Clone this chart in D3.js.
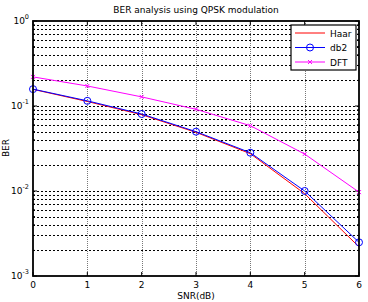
<!DOCTYPE html>
<html><head><meta charset="utf-8">
<script src="https://cdn.jsdelivr.net/npm/d3@7"></script>
<style>body{margin:0;background:#fff}svg{display:block}text{font-family:"DejaVu Sans",Arial,sans-serif}</style>
</head><body>
<svg id="c" width="368" height="302"></svg>
<script>
const snr = [0,1,2,3,4,5,6];
const haar = [0.157,0.113,0.079,0.049,0.0275,0.0093,0.0022];
const db2 = [0.158,0.115,0.0805,0.0499,0.0282,0.0100,0.00249];
const dft = [0.22,0.172,0.128,0.0914,0.0587,0.0272,0.0097];
const xTicks = [0,1,2,3,4,5,6];
const yExps = [0,-1,-2,-3];
const seriesNames = ["Haar","db2","DFT"];
const colors = ["#ff0000","#0000ff","#ff00ff"];

const svg = d3.select("#c");
const L=33, R=359, T=21, B=276;
const x = d3.scaleLinear().domain([0,6]).range([L,R]);
const y = d3.scaleLog().domain([1e-3,1]).range([B,T]);

// grid
const minor = [];
for (let e=-3;e<0;e++) for (let m=1;m<10;m++) minor.push(m*Math.pow(10,e));
minor.push(1);
const g = svg.append("g").attr("shape-rendering","crispEdges");
g.selectAll("line.gy").data(minor.filter(v=>v>1e-3&&v<1)).enter().append("line")
 .attr("x1",L).attr("x2",R).attr("y1",d=>Math.round(y(d))+0.5).attr("y2",d=>Math.round(y(d))+0.5)
 .attr("stroke","#000").attr("stroke-width",1).attr("stroke-dasharray","2,2");
g.selectAll("line.gx").data(xTicks.slice(1,-1)).enter().append("line")
 .attr("y1",T).attr("y2",B).attr("x1",d=>Math.round(x(d))+0.5).attr("x2",d=>Math.round(x(d))+0.5)
 .attr("stroke","#777").attr("stroke-width",1).attr("stroke-dasharray","1,1");

// ticks inward on all sides
const tk = svg.append("g").attr("stroke","#000");
minor.forEach(v=>{ const yy=y(v); const len = (Math.abs(Math.log10(v)-Math.round(Math.log10(v)))<1e-9)?4:2;
  tk.append("line").attr("x1",L).attr("x2",L+len).attr("y1",yy).attr("y2",yy);
  tk.append("line").attr("x1",R).attr("x2",R-len).attr("y1",yy).attr("y2",yy);});
xTicks.forEach(v=>{ const xx=x(v);
  tk.append("line").attr("x1",xx).attr("x2",xx).attr("y1",B).attr("y2",B-4);
  tk.append("line").attr("x1",xx).attr("x2",xx).attr("y1",T).attr("y2",T+4);});

// lines
const line = d3.line().x((d,i)=>x(snr[i])).y(d=>y(d));
[haar,db2,dft].forEach((s,k)=>{
  svg.append("path").attr("d",line(s)).attr("fill","none").attr("stroke",colors[k]).attr("stroke-width",1);
});
svg.selectAll("circle.m").data(db2).enter().append("circle")
 .attr("cx",(d,i)=>x(snr[i])).attr("cy",d=>y(d)).attr("r",3.5)
 .attr("fill","none").attr("stroke",colors[1]).attr("stroke-width",1);
dft.forEach((d,i)=>{
  const cx=x(snr[i]), cy=y(d), s=2;
  svg.append("path").attr("d",`M${cx-s},${cy-s}L${cx+s},${cy+s}M${cx-s},${cy+s}L${cx+s},${cy-s}`)
   .attr("stroke",colors[2]).attr("stroke-width",1);
});

// frame
svg.append("rect").attr("x",L).attr("y",T).attr("width",R-L).attr("height",B-T)
 .attr("fill","none").attr("stroke","#000").attr("stroke-width",1.8);

// tick labels
xTicks.forEach(v=>svg.append("text").attr("x",x(v)).attr("y",B+12).attr("text-anchor","middle")
  .attr("font-size",9).text(v));
yExps.forEach(e=>{
  const t=svg.append("text").attr("x",L-4).attr("y",y(Math.pow(10,e))+3).attr("text-anchor","end").attr("font-size",9);
  t.append("tspan").text("10");
  t.append("tspan").attr("dy",-5).attr("font-size",6.5).text(e);
});
svg.append("text").attr("x",196).attr("y",13).attr("text-anchor","middle").attr("font-size",9).text("BER analysis using QPSK  modulation");
svg.append("text").attr("x",196).attr("y",299).attr("text-anchor","middle").attr("font-size",9).text("SNR(dB)");
svg.append("text").attr("transform","translate(9,148) rotate(-90)").attr("text-anchor","middle").attr("font-size",9).text("BER");

// legend
const lg = svg.append("g");
lg.append("rect").attr("x",291).attr("y",25).attr("width",65).attr("height",45).attr("fill","#fff").attr("stroke","#000").attr("stroke-width",1.2);
seriesNames.forEach((n,k)=>{
  const yy = 33 + k*14.5;
  lg.append("line").attr("x1",295).attr("x2",325).attr("y1",yy).attr("y2",yy).attr("stroke",colors[k]);
  if(k===1) lg.append("circle").attr("cx",310).attr("cy",yy).attr("r",3.5).attr("fill","none").attr("stroke",colors[k]);
  if(k===2) lg.append("path").attr("d",`M308,${yy-2}L312,${yy+2}M308,${yy+2}L312,${yy-2}`).attr("stroke",colors[k]);
  lg.append("text").attr("x",330).attr("y",yy+3.5).attr("font-size",9).text(n);
});
</script>
</body></html>
